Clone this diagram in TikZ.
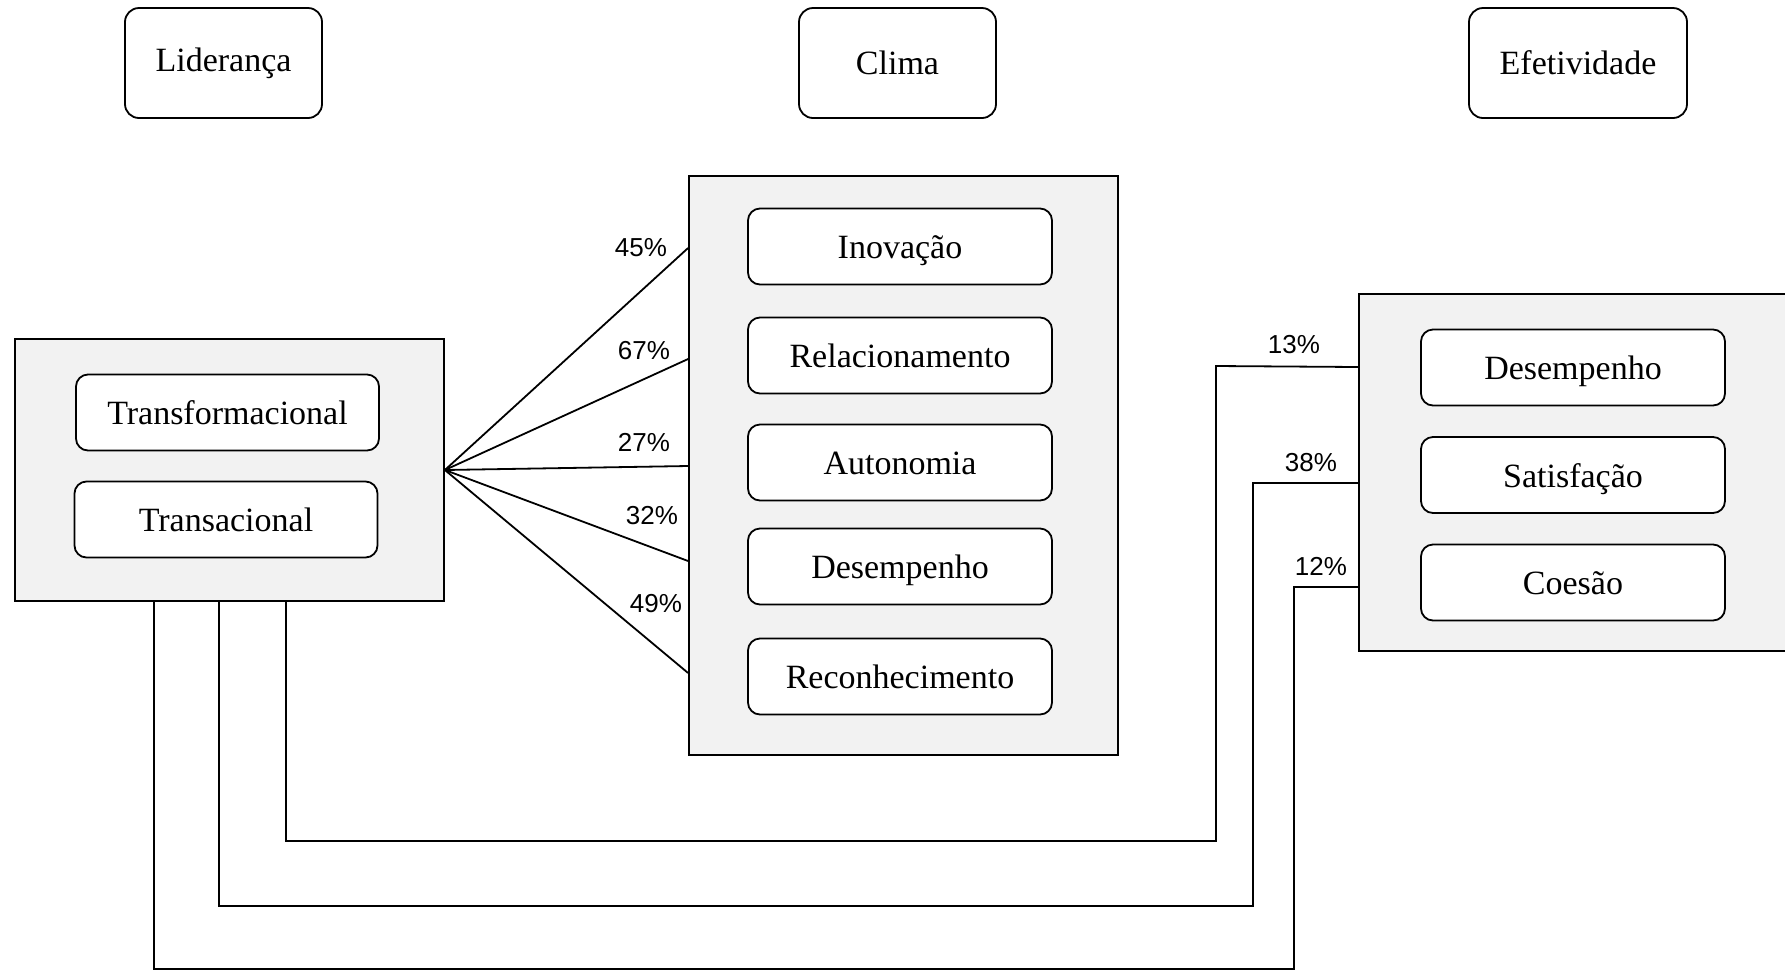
\documentclass[tikz,border=0pt]{standalone}
\usepackage{fontspec}
\setmainfont{Liberation Serif}
\newfontfamily\pctfont{Liberation Sans}
\definecolor{boxgray}{HTML}{F2F2F2}
\begin{document}
\begin{tikzpicture}[x=0.5pt,y=-0.5pt,line width=0.9pt,
    title/.style={draw,rounded corners=7pt,minimum width=98.5pt,minimum height=55pt,
      font=\fontsize{17}{20}\selectfont},
    group/.style={draw,fill=boxgray,inner sep=0pt},
    item/.style={draw,fill=white,rounded corners=6pt,minimum width=152pt,minimum height=38pt,
      text height=12pt,text depth=0pt,font=\fontsize{17}{20}\selectfont},
    pct/.style={font=\pctfont\fontsize{13}{15}\selectfont}]
  \useasboundingbox (0,0) rectangle (1785,971);
  \draw
    (223.5,63) node[title] (lid){Liderança}
    (897.5,63) node[title] (cli){Clima}
    (1578,63) node[title,minimum width=109pt] (efe){Efetividade};
  \draw
    (229.5,470) node[group,minimum width=214.5pt,minimum height=131pt] (lider){}
    (903.5,465.5) node[group,minimum width=214.5pt,minimum height=289.5pt] (clima){}
    (1574.5,472.5) node[group,minimum width=215.5pt,minimum height=178.5pt] (efet){};
  \draw
    (227.5,412.5) node[item,minimum width=151.5pt] (transf){Transformacional}
    (226,519.5) node[item,minimum width=151.5pt] (trans){Transacional}
    (900,246.5) node[item] (inov){Inovação}
    (900,355.5) node[item] (rel){Relacionamento}
    (900,462.5) node[item] (aut){Autonomia}
    (900,566.5) node[item] (desc){Desempenho}
    (900,676.5) node[item] (rec){Reconhecimento}
    (1573,367.5) node[item] (dese){Desempenho}
    (1573,475) node[item] (sat){Satisfação}
    (1573,582.5) node[item] (coe){Coesão};
  \begin{scope}[-]
    \draw (lider.east) to (clima.west |- 0,248);
    \draw (lider.east) to (clima.west |- 0,359);
    \draw (lider.east) to (clima.west |- 0,466);
    \draw (lider.east) to (clima.west |- 0,561);
    \draw (lider.east) to (clima.west |- 0,673);
    \draw (286,0 |- lider.south) -- (286,841) -- (1216,841) -- (1216,366) -- (efet.west |- 0,367);
    \draw (219,0 |- lider.south) -- (219,906) -- (1253,906) -- (1253,483) -- (efet.west |- 0,483);
    \draw (154,0 |- lider.south) -- (154,969) -- (1294,969) -- (1294,587) -- (efet.west |- 0,587);
  \end{scope}
  \draw
    (641,248) node[pct] (p1){45\%}
    (644,351) node[pct] (p2){67\%}
    (644,442) node[pct] (p3){27\%}
    (652,516) node[pct] (p4){32\%}
    (656,604) node[pct] (p5){49\%}
    (1294,345) node[pct] (p6){13\%}
    (1311,463) node[pct] (p7){38\%}
    (1321,566) node[pct] (p8){12\%};
\end{tikzpicture}
\end{document}
